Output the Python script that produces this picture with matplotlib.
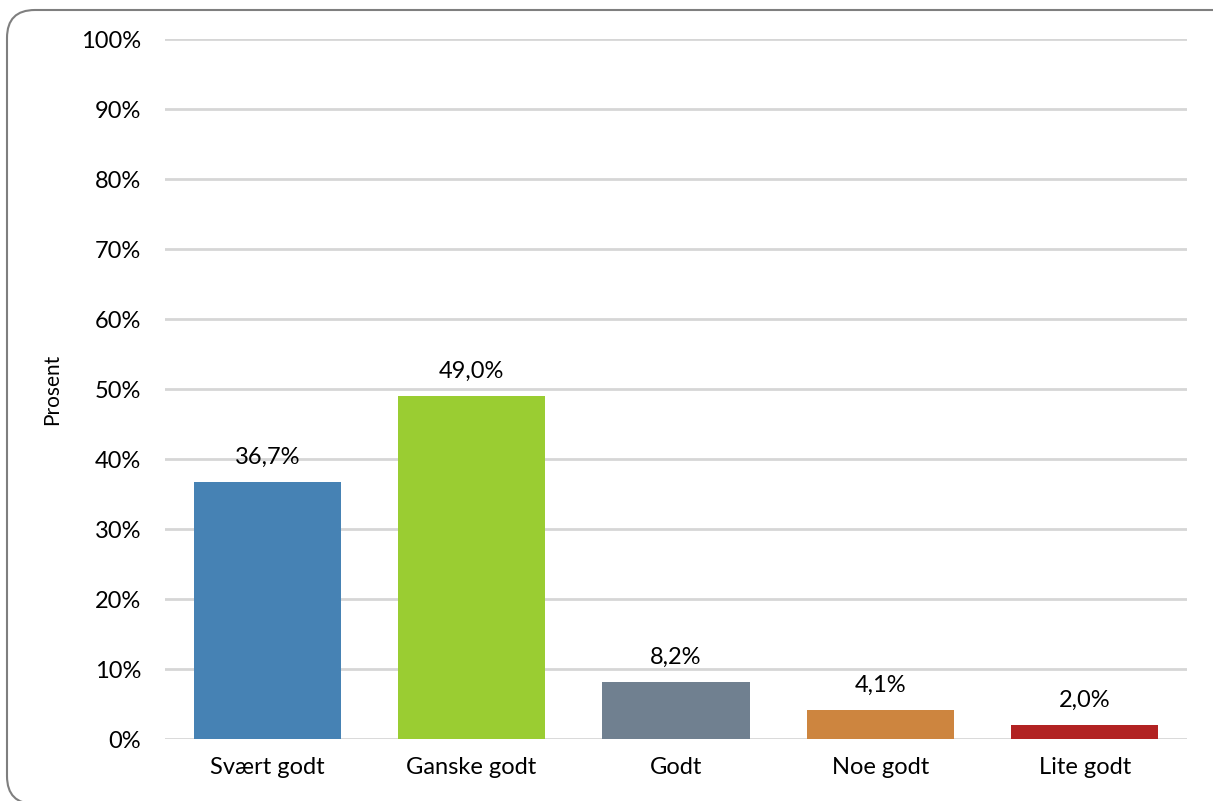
import matplotlib
matplotlib.use('Agg')
import matplotlib.pyplot as plt
from matplotlib.patches import FancyBboxPatch
from matplotlib.ticker import PercentFormatter

categories = ['Svært godt', 'Ganske godt', 'Godt', 'Noe godt', 'Lite godt']
values = [36.7, 49.0, 8.2, 4.1, 2.0]
colors = ['#4682B4', '#9ACD32', '#708090', '#CD853F', '#B22222']

plt.rcParams['font.family'] = ['Lato', 'DejaVu Sans']
plt.rcParams['savefig.bbox'] = 'standard'

fig = plt.figure(figsize=(12.13, 8.01), dpi=100)
ax = fig.add_axes([0.136, 0.0774, 0.8426, 0.8739])

# rounded chart border, runs off the right/bottom edges
border = FancyBboxPatch((7 / 1213, -3 / 801), 1.03, 794 / 801,
                        boxstyle='round,pad=0,rounding_size=0.023',
                        mutation_aspect=1213 / 801, transform=fig.transFigure,
                        facecolor='none', edgecolor='#7F7F7F', linewidth=1.5, zorder=0)
border.set_in_layout(False)
fig.patches.append(border)

x = range(len(categories))
bars = ax.bar(x, values, width=0.72, color=colors, zorder=3)

for xi, v in zip(x, values):
    ax.text(xi, v + 2.0, f'{v:.1f}%'.replace('.', ','), ha='center', va='bottom', fontsize=17)

ax.set_ylim(0, 100)
ax.set_xlim(-0.5, len(categories) - 0.5)
ax.set_yticks(range(0, 101, 10))
ax.yaxis.set_major_formatter(PercentFormatter(decimals=0))
ax.set_xticks(list(x))
ax.set_xticklabels(categories)
ax.tick_params(axis='both', length=0, labelsize=17)
ax.tick_params(axis='y', pad=17)
ax.tick_params(axis='x', pad=13)
ax.grid(axis='y', color='#D6D6D6', linewidth=2.0, zorder=0)
for s in ax.spines.values():
    s.set_visible(False)

ax.set_ylabel('Prosent', fontsize=15, labelpad=14)

fig.savefig('out.png', dpi=100, bbox_inches=None)
